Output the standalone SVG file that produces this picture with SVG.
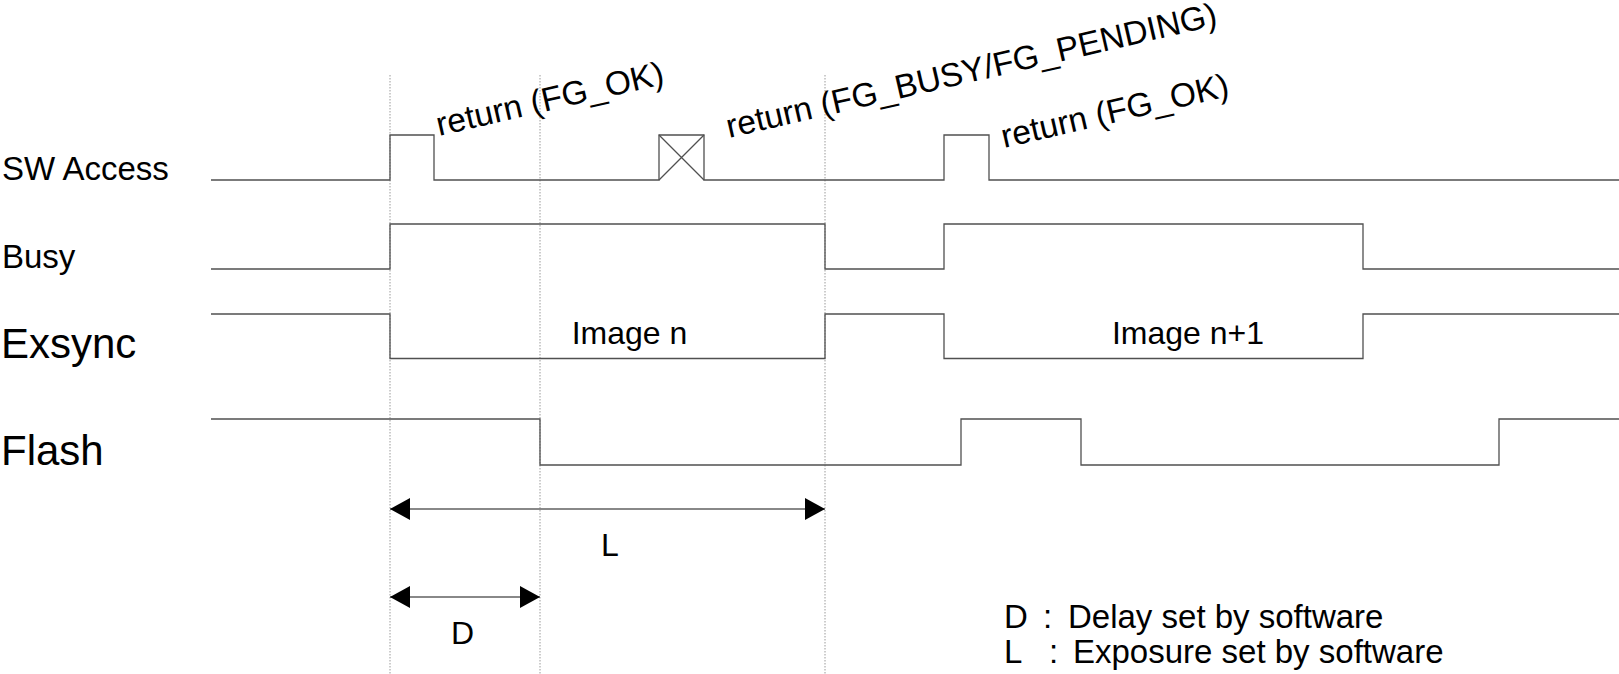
<svg xmlns="http://www.w3.org/2000/svg" width="1619" height="674" viewBox="0 0 1619 674">
<style>
.sig{fill:none;stroke:#505050;stroke-width:1.3}
.guide{fill:none;stroke:#9a9a9a;stroke-width:1;stroke-dasharray:1.5 1.5}
.dim{fill:none;stroke:#606060;stroke-width:1.3}
text{font-family:"Liberation Sans",Arial,sans-serif;fill:#000}
.lbl{font-size:33px}
.big{font-size:42px}
.ann{font-size:32px}
.rot{font-size:33.5px}
.leg{font-size:33px}
</style>
<defs>
<marker id="ah" viewBox="0 0 20 22" refX="20" refY="11" markerWidth="20" markerHeight="22" markerUnits="userSpaceOnUse" orient="auto-start-reverse">
<path d="M0,0 L20,11 L0,22 Z" fill="#000"/>
</marker>
</defs>
<rect width="1619" height="674" fill="#fff"/>
<g id="guides">
<line class="guide" x1="390" y1="75" x2="390" y2="674"/>
<line class="guide" x1="540" y1="75" x2="540" y2="674"/>
<line class="guide" x1="825" y1="75" x2="825" y2="674"/>
</g>
<g id="sw-access">
<text class="lbl" x="2" y="180">SW Access</text>
<polyline class="sig" points="211,180 390,180 390,135 434,135 434,180 659,180 659,135 704,135 704,180 944,180 944,135 989,135 989,180 1619,180"/>
<path class="sig" d="M659,135 L704,180 M704,135 L659,180" stroke-width="1"/>
</g>
<g id="busy">
<text class="lbl" x="2" y="268">Busy</text>
<polyline class="sig" points="211,269 390,269 390,224 825,224 825,269 944,269 944,224 1363,224 1363,269 1619,269"/>
</g>
<g id="exsync">
<text class="big" x="1" y="358">Exsync</text>
<polyline class="sig" points="211,314 390,314 390,358.5 825,358.5 825,314 944,314 944,358.5 1363,358.5 1363,314 1619,314"/>
<text class="ann" x="629.5" y="344" text-anchor="middle">Image n</text>
<text class="ann" x="1188" y="344" text-anchor="middle">Image n+1</text>
</g>
<g id="flash">
<text class="big" x="1" y="465">Flash</text>
<polyline class="sig" points="211,419 540,419 540,465 961,465 961,419 1081,419 1081,465 1499,465 1499,419 1619,419"/>
</g>
<g id="returns">
<text class="rot" transform="translate(439,136) rotate(-13)">return (FG_OK)</text>
<text class="rot" transform="translate(729,138) rotate(-13)">return (FG_BUSY/FG_PENDING)</text>
<text class="rot" transform="translate(1004,148) rotate(-13)">return (FG_OK)</text>
</g>
<g id="connectors">
<line class="dim" x1="390" y1="509" x2="825" y2="509" marker-start="url(#ah)" marker-end="url(#ah)"/>
<line class="dim" x1="390" y1="597" x2="540" y2="597" marker-start="url(#ah)" marker-end="url(#ah)"/>
</g>
<g id="dim-labels">
<text class="ann" x="601" y="556">L</text>
<text class="ann" x="451" y="644">D</text>
</g>
<g id="legend">
<text class="leg" y="628"><tspan x="1004">D</tspan><tspan x="1043">:</tspan><tspan x="1068">Delay set by software</tspan></text>
<text class="leg" y="663"><tspan x="1004">L</tspan><tspan x="1049">:</tspan><tspan x="1073">Exposure set by software</tspan></text>
</g>
</svg>
